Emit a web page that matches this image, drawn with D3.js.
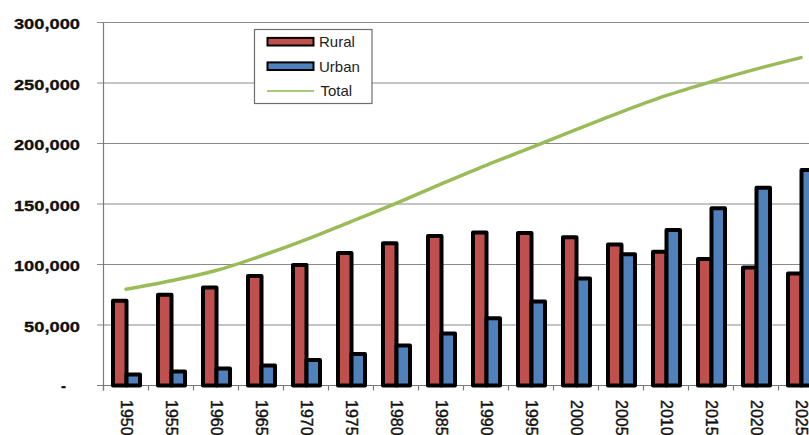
<!DOCTYPE html>
<html>
<head>
<meta charset="utf-8">
<script src="https://cdn.jsdelivr.net/npm/d3@7"></script>
<style>
  html, body { margin: 0; padding: 0; background: #fff; }
  svg { display: block; }
</style>
</head>
<body>
<svg id="chart" width="809" height="435"></svg>
<script>
// Population by area type, 1950-2025 (thousands)
const years = ["1950","1955","1960","1965","1970","1975","1980","1985",
               "1990","1995","2000","2005","2010","2015","2020","2025"];
const rural = [70000, 75000, 81000, 90500, 99500, 109500, 117500, 123500,
               126500, 126000, 122500, 116500, 110500, 104500, 97500, 92500];
const urban = [9000, 11500, 14000, 16500, 21000, 26000, 33000, 43000,
               55500, 69500, 88500, 108500, 128500, 146500, 163500, 178000];
const total = [79500, 86500, 95000, 107000, 120500, 135500, 150500, 166500,
               182000, 196500, 211500, 226000, 239500, 251000, 261500, 271000];
const yTicks = [0, 50000, 100000, 150000, 200000, 250000, 300000];
const barSeries = ["Rural", "Urban"];
const legendItems = ["Rural", "Urban", "Total"];
const colors = { Rural: "#C0504D", Urban: "#4F81BD", Total: "#9BBB59" };

const svg = d3.select("#chart");
const W = 809;

const x = d3.scaleBand().domain(years).range([103.5, 823.5]).padding(0);
const xSeries = d3.scaleBand().domain(barSeries).range([9.5, 36.5]).padding(0);
const y = d3.scaleLinear().domain([0, 300000]).range([385.5, 22.5]);

// horizontal gridlines (with the short ticks left of the axis)
svg.append("g")
  .selectAll("line")
  .data(yTicks)
  .join("line")
  .attr("x1", 97).attr("x2", W)
  .attr("y1", d => y(d)).attr("y2", d => y(d))
  .attr("stroke", d => d === 0 ? "#7a7a7a" : "#8a8a8a")
  .attr("stroke-width", 1.2);

// vertical axis line
svg.append("line")
  .attr("x1", x.range()[0]).attr("x2", x.range()[0])
  .attr("y1", y(300000)).attr("y2", y(0) + 5)
  .attr("stroke", "#7a7a7a").attr("stroke-width", 1.2);

// x tick marks at category boundaries
const boundaries = years.map(d => x(d)).concat([x.range()[1]]);
svg.append("g")
  .selectAll("line")
  .data(boundaries)
  .join("line")
  .attr("x1", d => d).attr("x2", d => d)
  .attr("y1", y(0)).attr("y2", y(0) + 5)
  .attr("stroke", "#7a7a7a").attr("stroke-width", 1.2);

// bars
const barData = [];
years.forEach((yr, i) => {
  barData.push({ year: yr, key: "Rural", value: rural[i] });
  barData.push({ year: yr, key: "Urban", value: urban[i] });
});
svg.append("g")
  .selectAll("rect")
  .data(barData)
  .join("rect")
  .attr("x", d => x(d.year) + xSeries(d.key))
  .attr("width", xSeries.bandwidth())
  .attr("y", d => y(d.value))
  .attr("height", d => y(0) - y(d.value))
  .attr("fill", d => colors[d.key])
  .attr("stroke", "#000")
  .attr("stroke-width", 4)
  .attr("stroke-linejoin", "round");

// total line
const line = d3.line()
  .x((d, i) => x(years[i]) + x.bandwidth() / 2)
  .y(d => y(d))
  .curve(d3.curveCatmullRom.alpha(0));
svg.append("path")
  .datum(total)
  .attr("d", line)
  .attr("fill", "none")
  .attr("stroke", colors.Total)
  .attr("stroke-width", 3.5)
  .attr("stroke-linecap", "round");

// y labels
const fmt = d3.format(",");
svg.append("g")
  .selectAll("text")
  .data(yTicks)
  .join("text")
  .attr("transform", d => d === 0
      ? `translate(63.5,${y(d) + 5.5})`
      : `translate(80,${y(d) + 6.5}) scale(1.22,1)`)
  .attr("text-anchor", d => d === 0 ? "middle" : "end")
  .attr("font-family", "Liberation Sans, Arial, sans-serif")
  .attr("font-weight", "bold")
  .attr("font-size", 15)
  .attr("fill", "#111")
  .attr("stroke", "#111")
  .attr("stroke-width", 0.3)
  .text(d => d === 0 ? "-" : fmt(d));

// x labels, rotated
svg.append("g")
  .selectAll("text")
  .data(years)
  .join("text")
  .attr("transform", d => `translate(${x(d) + x.bandwidth() / 2 - 5.5},400) rotate(90)`)
  .attr("text-anchor", "start")
  .attr("font-family", "Liberation Sans, Arial, sans-serif")
  .attr("font-size", 16)
  .attr("fill", "#111")
  .attr("stroke", "#111")
  .attr("stroke-width", 0.4)
  .text(d => d);

// legend
const legend = svg.append("g");
legend.append("rect")
  .attr("x", 254.5).attr("y", 29.5)
  .attr("width", 117.5).attr("height", 74)
  .attr("fill", "#fff")
  .attr("stroke", "#6e6e6e").attr("stroke-width", 1.2);
const rowY = [41.7, 66.2, 91];
legendItems.forEach((name, i) => {
  if (name === "Total") {
    legend.append("line")
      .attr("x1", 267).attr("x2", 314)
      .attr("y1", rowY[i]).attr("y2", rowY[i])
      .attr("stroke", "#A9C97A").attr("stroke-width", 2);
  } else {
    legend.append("rect")
      .attr("x", 267.5).attr("y", rowY[i] - 3.8)
      .attr("width", 46).attr("height", 7.6)
      .attr("fill", colors[name])
      .attr("stroke", "#000").attr("stroke-width", 2);
  }
  legend.append("text")
    .attr("x", name === "Total" ? 320.5 : 319)
    .attr("y", rowY[i] + 5.3)
    .attr("font-family", "Liberation Sans, Arial, sans-serif")
    .attr("font-size", 15)
    .attr("fill", "#222")
    .text(name);
});
</script>
</body>
</html>
